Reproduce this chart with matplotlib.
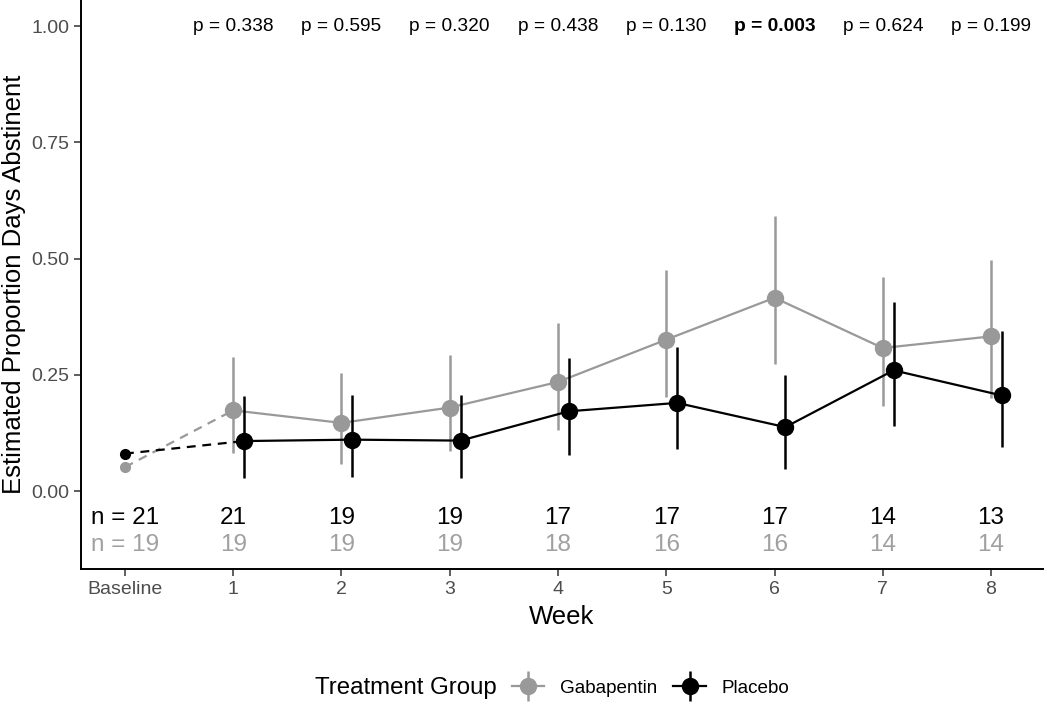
import matplotlib
matplotlib.use("Agg")
import matplotlib.pyplot as plt
from matplotlib.lines import Line2D

plt.rcParams['font.family'] = ['Liberation Sans', 'DejaVu Sans']

# ---- data ----
week_labels = ["Baseline", "1", "2", "3", "4", "5", "6", "7", "8"]
weeks = [1, 2, 3, 4, 5, 6, 7, 8]
baseline_gaba = 0.052
baseline_plac = 0.081
gaba_est = [0.174, 0.147, 0.180, 0.235, 0.326, 0.416, 0.308, 0.333]
gaba_lo = [0.082, 0.059, 0.086, 0.131, 0.202, 0.274, 0.183, 0.201]
gaba_hi = [0.288, 0.254, 0.294, 0.361, 0.476, 0.591, 0.461, 0.497]
plac_est = [0.108, 0.111, 0.109, 0.172, 0.190, 0.138, 0.260, 0.206]
plac_lo = [0.029, 0.031, 0.029, 0.079, 0.092, 0.047, 0.140, 0.095]
plac_hi = [0.204, 0.208, 0.208, 0.287, 0.310, 0.249, 0.406, 0.345]
n_plac = [21, 21, 19, 19, 17, 17, 17, 14, 13]
n_gaba = [19, 19, 19, 19, 18, 16, 16, 14, 14]
p_values = ["0.338", "0.595", "0.320", "0.438", "0.130", "0.003", "0.624", "0.199"]
p_bold = [False, False, False, False, False, True, False, False]

GREY = "#999999"
BLACK = "#000000"
dodge = 0.1

fig = plt.figure(figsize=(10.5, 7.03), dpi=100)
ax = fig.add_axes([81/1050, 1-569/703, (1043-81)/1050, 569/703])

# dashed baseline connectors
ax.plot([0, weeks[0]], [baseline_gaba, gaba_est[0]], color=GREY, lw=1.6, ls=(0, (4, 3)), zorder=2)
ax.plot([0, weeks[0] + dodge], [baseline_plac, plac_est[0]], color=BLACK, lw=1.6, ls=(0, (4, 3)), zorder=4)
ax.plot([0], [baseline_gaba], 'o', color=GREY, ms=7, zorder=3)
ax.plot([0], [baseline_plac], 'o', color=BLACK, ms=7, zorder=5)

# gabapentin
gx = [w for w in weeks]
g_err = [[e - l for e, l in zip(gaba_est, gaba_lo)], [h - e for e, h in zip(gaba_est, gaba_hi)]]
ax.errorbar(gx, gaba_est, yerr=g_err, fmt='-o', color=GREY, ms=11.5, lw=1.6,
            elinewidth=1.8, capsize=0, zorder=2)
# placebo
px = [w + dodge for w in weeks]
p_err = [[e - l for e, l in zip(plac_est, plac_lo)], [h - e for e, h in zip(plac_est, plac_hi)]]
ax.errorbar(px, plac_est, yerr=p_err, fmt='-o', color=BLACK, ms=11.5, lw=1.6,
            elinewidth=1.8, capsize=0, zorder=4)

# p-values
for w, p, b in zip(weeks, p_values, p_bold):
    ax.text(w, 1.0, f"p = {p}", ha='center', va='center', fontsize=13.8,
            fontweight='bold' if b else 'normal', color='black')

# n labels
positions = [0] + weeks
for i, (x, npl, ng) in enumerate(zip(positions, n_plac, n_gaba)):
    t1 = f"n = {npl}" if i == 0 else f"{npl}"
    t2 = f"n = {ng}" if i == 0 else f"{ng}"
    ax.text(x, -0.058, t1, ha='center', va='center', fontsize=17.5, color=BLACK)
    ax.text(x, -0.116, t2, ha='center', va='center', fontsize=17.5, color="#a0a0a0")

ax.set_xlim(-0.406, 8.48)
ax.set_ylim(-0.167, 1.056)
ax.set_xticks(positions)
ax.set_xticklabels(week_labels)
ax.set_yticks([0, 0.25, 0.5, 0.75, 1.0])
ax.set_yticklabels(["0.00", "0.25", "0.50", "0.75", "1.00"])
ax.tick_params(axis='both', labelsize=14, labelcolor="#4d4d4d", color="#333333",
               length=5, width=1.1)
ax.tick_params(axis='x', pad=4)
for s in ['top', 'right']:
    ax.spines[s].set_visible(False)
for s in ['left', 'bottom']:
    ax.spines[s].set_linewidth(1.4)
ax.set_xlabel("Week", fontsize=18.5, labelpad=5)
ax.set_ylabel("Estimated Proportion Days Abstinent", fontsize=18.5, labelpad=4)

# legend
fig.text(315/1050, 1-688/703, "Treatment Group", fontsize=17.3, va='center', ha='left')

def handle(color):
    h_line = Line2D([], [], color=color, lw=1.6)
    v_bar = Line2D([], [], color=color, marker='|', ms=22, mew=1.8, ls='none')
    dot = Line2D([], [], color=color, marker='o', ms=11.5, ls='none')
    return (h_line, v_bar, dot)

leg = fig.legend([handle(GREY), handle(BLACK)], ["Gabapentin", "Placebo"], ncol=2,
                 loc='center left', bbox_to_anchor=(512/1050, 1-688/703), frameon=False,
                 fontsize=13.6, handlelength=1.7, handletextpad=0.85, columnspacing=0.85,
                 borderpad=0, borderaxespad=0)

fig.savefig("out.png", dpi=100)
